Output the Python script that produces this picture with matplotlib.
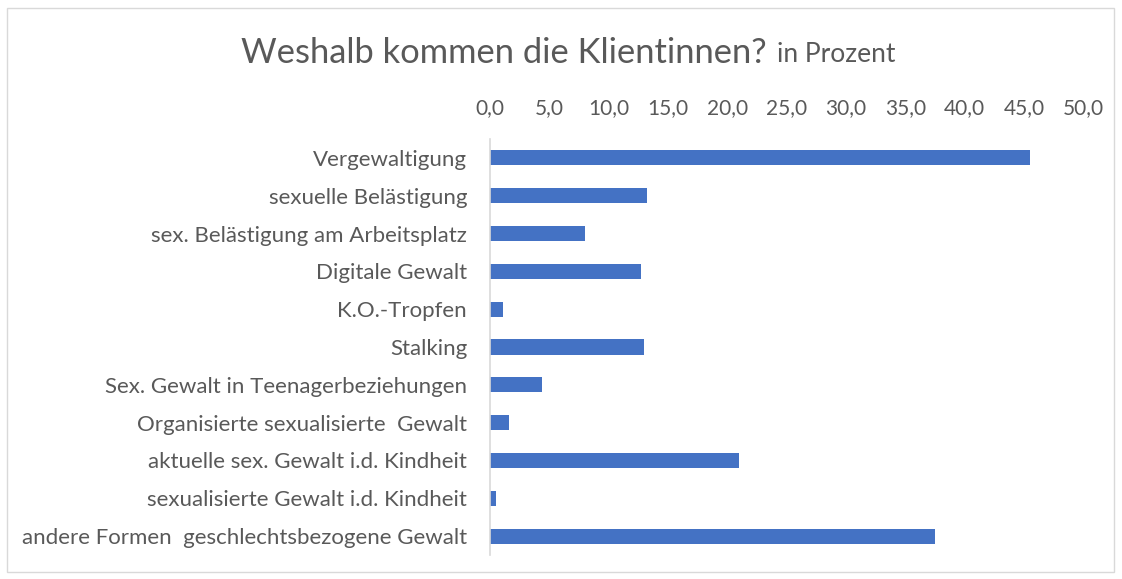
import matplotlib
matplotlib.use("Agg")
import matplotlib.pyplot as plt
from matplotlib.patches import Rectangle

categories = [
    "Vergewaltigung",
    "sexuelle Belästigung",
    "sex. Belästigung am Arbeitsplatz",
    "Digitale Gewalt",
    "K.O.-Tropfen",
    "Stalking",
    "Sex. Gewalt in Teenagerbeziehungen",
    "Organisierte sexualisierte  Gewalt",
    "aktuelle sex. Gewalt i.d. Kindheit",
    "sexualisierte Gewalt i.d. Kindheit",
    "andere Formen  geschlechtsbezogene Gewalt",
]
values = [45.5, 13.2, 8.0, 12.7, 1.1, 13.0, 4.4, 1.6, 21.0, 0.5, 37.5]
xticks = [0, 5, 10, 15, 20, 25, 30, 35, 40, 45, 50]
xtick_labels = ["0,0", "5,0", "10,0", "15,0", "20,0", "25,0", "30,0", "35,0", "40,0", "45,0", "50,0"]

TEXT = "#595959"
BAR = "#4472C4"
FONT = "Lato"

W, H = 1122, 579
fig = plt.figure(figsize=(W / 100, H / 100), dpi=100)
ax = fig.add_axes([490 / W, 1 - 555 / H, (1083.5 - 490) / W, (555 - 139) / H])

y = list(range(len(categories)))
ax.barh(y, values, height=0.4, color=BAR)
ax.set_ylim(len(categories) - 0.5, -0.5)
ax.set_xlim(0, 50)
ax.set_xticks(xticks)
ax.set_xticklabels(xtick_labels, fontsize=15, color=TEXT, family=FONT)
ax.xaxis.tick_top()
ax.tick_params(axis="x", length=0, pad=15)
ax.set_yticks(y)
ax.set_yticklabels(categories, fontsize=16, color=TEXT, family=FONT)
ax.tick_params(axis="y", length=0, pad=16.5)
for s in ["top", "right", "bottom"]:
    ax.spines[s].set_visible(False)
ax.spines["left"].set_color("#D9D9D9")
ax.spines["left"].set_linewidth(1.2)

fig.text(767 / W, 1 - 53 / H, "Weshalb kommen die Klientinnen?", ha="right", va="center",
         fontsize=24.8, color=TEXT, family=FONT)
fig.text(777 / W, 1 - 55 / H, "in Prozent", ha="left", va="center",
         fontsize=19, color=TEXT, family=FONT)

fig.patches.append(Rectangle((7 / W, 1 - 572 / H), (1114 - 7) / W, (572 - 8) / H,
                             transform=fig.transFigure, fill=False, edgecolor="#D9D9D9", linewidth=1))

fig.savefig("out.png", dpi=100)
